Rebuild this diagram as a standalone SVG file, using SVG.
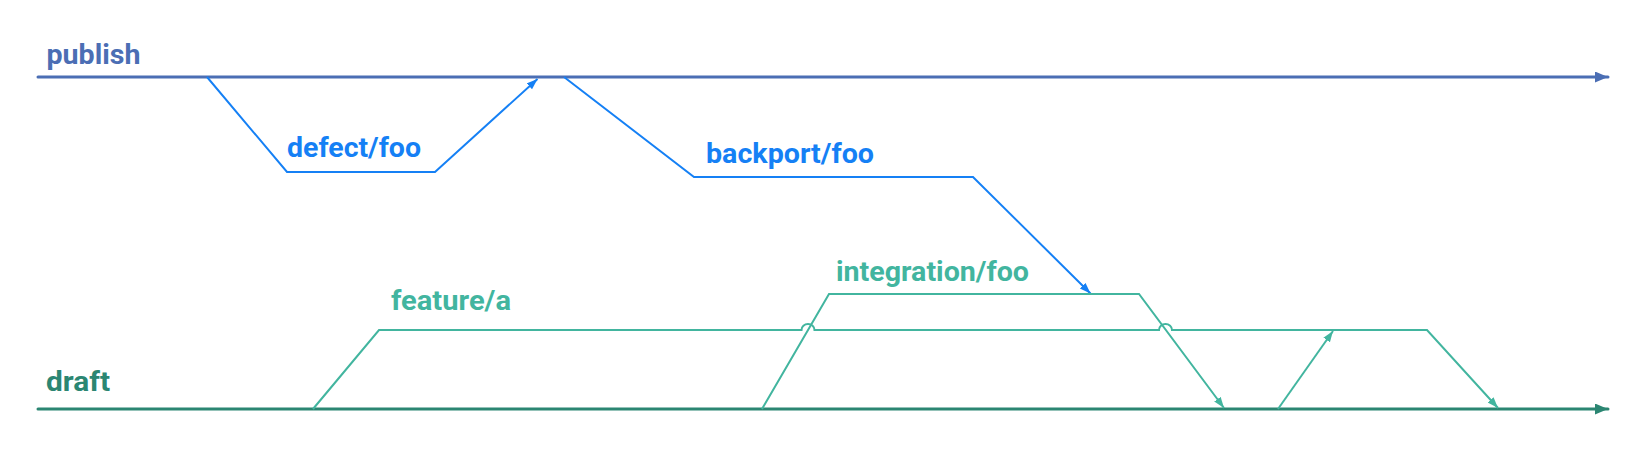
<svg xmlns="http://www.w3.org/2000/svg" width="1649" height="450" viewBox="0 0 1649 450">
  <style>
    .lbl { font-family: Roboto, "Liberation Sans", sans-serif; font-weight: 700; font-size: 28px; }
    .main { fill: none; stroke-width: 3; stroke-linecap: round; }
    .br { fill: none; stroke-width: 2; stroke-linejoin: miter; }
    .pub { stroke: #4b6eb4; }
    .drf { stroke: #2b8672; }
    .blue { stroke: #1580f5; }
    .teal { stroke: #42b59f; }
  </style>
  <defs>
    <marker id="mPub" markerUnits="userSpaceOnUse" markerWidth="14" markerHeight="12" refX="13" refY="5.5" orient="auto">
      <path d="M0,0 L13,5.5 L0,11 Z" fill="#4b6eb4"/>
    </marker>
    <marker id="mDrf" markerUnits="userSpaceOnUse" markerWidth="14" markerHeight="12" refX="13" refY="5.5" orient="auto">
      <path d="M0,0 L13,5.5 L0,11 Z" fill="#2b8672"/>
    </marker>
    <marker id="mBlue" markerUnits="userSpaceOnUse" markerWidth="12" markerHeight="9" refX="11" refY="4" orient="auto">
      <path d="M0,0 L11,4 L0,8 Z" fill="#1580f5"/>
    </marker>
    <marker id="mTeal" markerUnits="userSpaceOnUse" markerWidth="12" markerHeight="9" refX="11" refY="4" orient="auto">
      <path d="M0,0 L11,4 L0,8 Z" fill="#42b59f"/>
    </marker>
  </defs>

  <g id="connectors">
    <path id="publish-line" class="main pub" d="M38,77 L1608,77" marker-end="url(#mPub)"/>
    <path id="draft-line" class="main drf" d="M38,409 L1608,409" marker-end="url(#mDrf)"/>
    <path id="defect-foo" class="br blue" d="M207,77 L287,172 L435,172 L537.5,79" marker-end="url(#mBlue)"/>
    <path id="backport-foo" class="br blue" d="M564,77 L694,177 L973,177 L1090.5,293.5" marker-end="url(#mBlue)"/>
    <path id="integration-foo" class="br teal" d="M762,409 L829,294 L1139,294 L1224,408" marker-end="url(#mTeal)"/>
    <path id="feature-a" class="br teal" d="M313,409 L379,330 L801.5,330 A6.5,6 0 0 1 814.5,330 L1159,330 A6.5,6 0 0 1 1172,330 L1427,330 L1498,408" marker-end="url(#mTeal)"/>
    <path id="draft-to-feature" class="br teal" d="M1278,409 L1333,331" marker-end="url(#mTeal)"/>
  </g>

  <g id="node-publish">
    <text class="lbl" x="46.5" y="64" fill="#4b6eb4" textLength="94" lengthAdjust="spacingAndGlyphs">publish</text>
  </g>
  <g id="node-draft">
    <text class="lbl" x="46" y="391" fill="#2b8672" textLength="64" lengthAdjust="spacingAndGlyphs">draft</text>
  </g>
  <g id="node-defect-foo">
    <text class="lbl" x="287" y="157" fill="#1580f5" textLength="134" lengthAdjust="spacingAndGlyphs">defect/foo</text>
  </g>
  <g id="node-backport-foo">
    <text class="lbl" x="706" y="163" fill="#1580f5" textLength="168" lengthAdjust="spacingAndGlyphs">backport/foo</text>
  </g>
  <g id="node-integration-foo">
    <text class="lbl" x="836" y="281" fill="#42b59f" textLength="193" lengthAdjust="spacingAndGlyphs">integration/foo</text>
  </g>
  <g id="node-feature-a">
    <text class="lbl" x="391" y="310" fill="#42b59f" textLength="120" lengthAdjust="spacingAndGlyphs">feature/a</text>
  </g>
</svg>
